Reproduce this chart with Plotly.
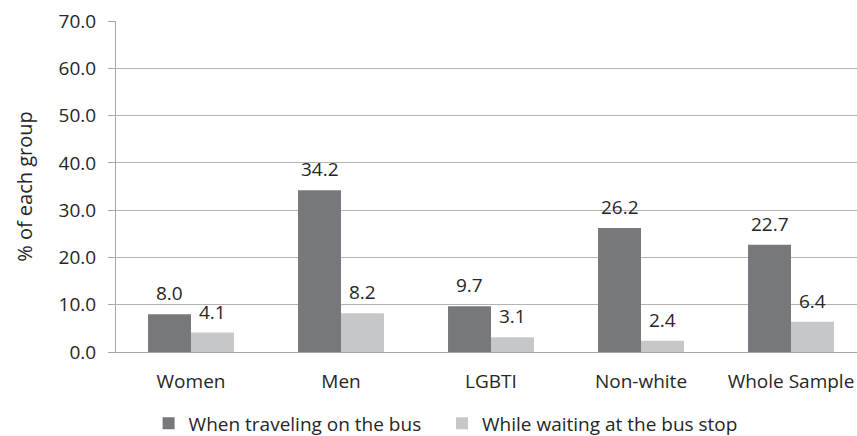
import plotly.graph_objects as go

categories = ["Women", "Men", "LGBTI", "Non-white", "Whole Sample"]
bus_values = [8.0, 34.2, 9.7, 26.2, 22.7]
stop_values = [4.1, 8.2, 3.1, 2.4, 6.4]
series_names = ["When traveling on the bus", "While waiting at the bus stop"]
y_ticks = [0, 10, 20, 30, 40, 50, 60, 70]

DARK = "#77787b"
LIGHT = "#c6c7c8"
TXT = "#262626"
FONT = "Open Sans"

fig = go.Figure()
fig.add_trace(go.Bar(x=categories, y=bus_values, name=series_names[0], legend="legend",
                     marker=dict(color=DARK, line=dict(width=0))))
fig.add_trace(go.Bar(x=categories, y=stop_values, name=series_names[1], legend="legend2",
                     marker=dict(color=LIGHT, line=dict(width=0))))

BAR_PX = 43
for vals, shift in ((bus_values, -BAR_PX / 2), (stop_values, BAR_PX / 2)):
    for c, v in zip(categories, vals):
        fig.add_annotation(x=c, y=v, text=f"{v:.1f}", showarrow=False,
                           xref="x", yref="y", xshift=shift, yshift=6,
                           yanchor="bottom", font=dict(family=FONT, size=19, color=TXT))

leg_common = dict(orientation="h", xanchor="left", y=-0.158, yanchor="top",
                  bgcolor="rgba(0,0,0,0)", itemwidth=30,
                  font=dict(family=FONT, size=19, color=TXT))

fig.update_layout(
    width=857, height=436,
    margin=dict(l=116, r=0, t=21, b=84, autoexpand=False),
    paper_bgcolor="white", plot_bgcolor="white",
    barmode="group", bargap=0.427, bargroupgap=0,
    font=dict(family=FONT, size=19, color=TXT),
    showlegend=True,
    legend=dict(x=0.044, **leg_common),
    legend2=dict(x=0.44, **leg_common),
    xaxis=dict(range=[-0.5, 4.44], showgrid=False, showline=True, linecolor="#a6a6a6",
               linewidth=1, ticks="", ticklabelstandoff=12,
               tickfont=dict(family=FONT, size=19, color=TXT)),
    yaxis=dict(range=[0, 70], tickvals=y_ticks, ticktext=[f"{t:.1f}" for t in y_ticks],
               showgrid=True, gridcolor="#b3b3b3", gridwidth=1,
               showline=True, linecolor="#a6a6a6", linewidth=1,
               ticks="outside", ticklen=7, tickcolor="#a6a6a6",
               zeroline=False, ticklabelstandoff=8,
               title=dict(text="% of each group", standoff=20,
                          font=dict(family=FONT, size=20, color=TXT)),
               tickfont=dict(family=FONT, size=19, color=TXT)),
)

fig.write_html("out.html")
